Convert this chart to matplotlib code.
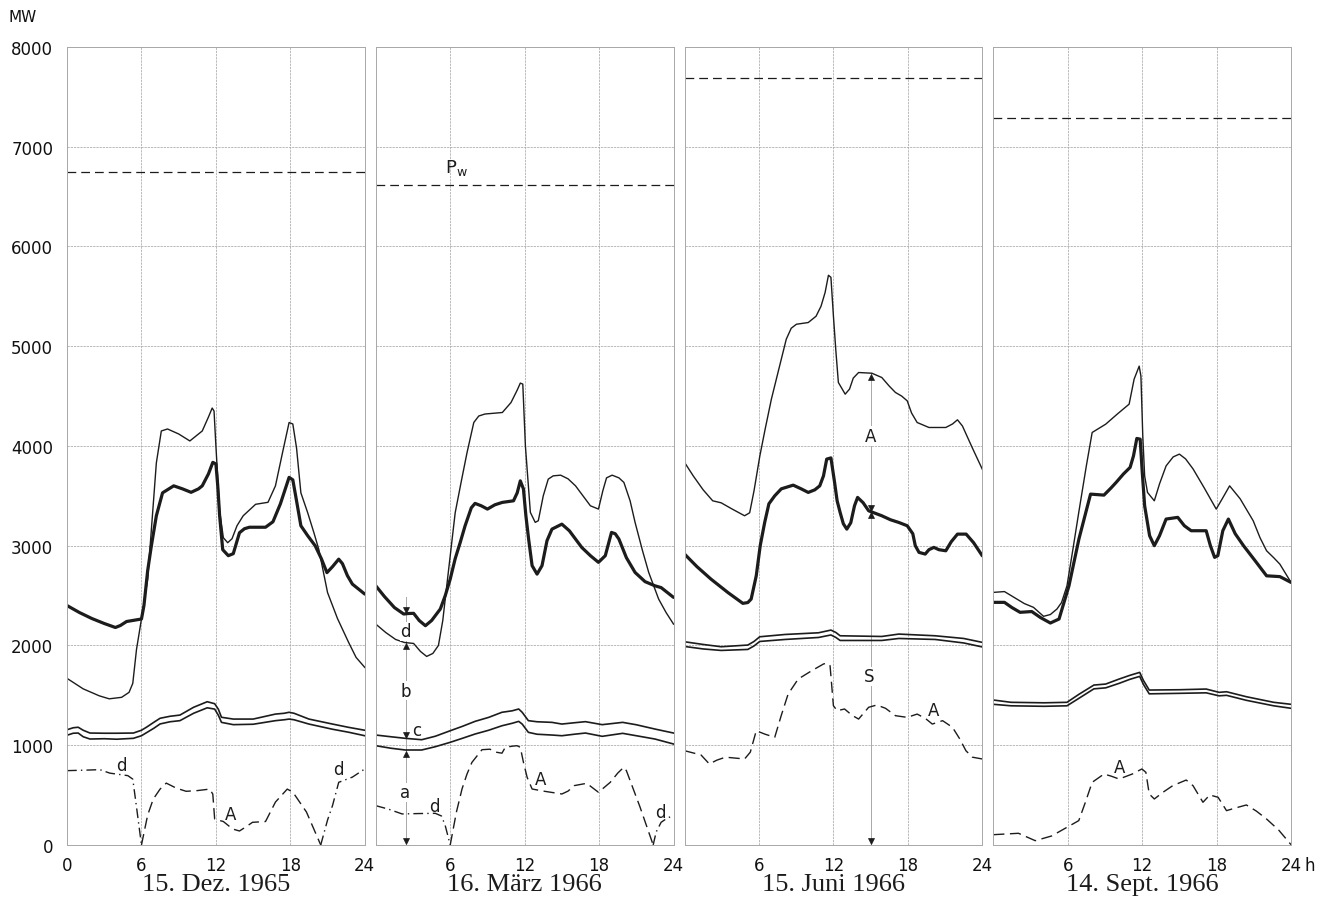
import numpy as np
import matplotlib.pyplot as plt

# Tageslastgänge (MW) an vier Stichtagen, Stunden 0..24
dates = ["15. Dez. 1965", "16. März 1966", "15. Juni 1966", "14. Sept. 1966"]
p_w = [6750, 6620, 7690, 7290]

# dünne Kurve
dez_thin = [(0, 1670), (1.3, 1565), (2.6, 1495), (3.4, 1465), (4.4, 1480), (5.0, 1530), (5.3, 1620),
            (5.6, 1960), (6.0, 2265), (6.5, 2665), (6.9, 3330), (7.2, 3830), (7.6, 4150), (8.1, 4170),
            (9.0, 4120), (9.9, 4050), (10.9, 4150), (11.4, 4290), (11.7, 4380), (11.85, 4350), (12.0, 4000),
            (12.3, 3350), (12.6, 3080), (12.95, 3030), (13.3, 3070), (13.7, 3200), (14.2, 3300), (15.2, 3415),
            (16.2, 3435), (16.8, 3600), (17.4, 3950), (17.9, 4235), (18.2, 4220), (18.5, 3980), (18.85, 3530),
            (19.4, 3330), (19.9, 3130), (20.3, 2960), (21.0, 2530), (21.8, 2270), (22.7, 2030), (23.3, 1880),
            (24, 1780)]
mar_thin = [(0, 2214), (0.8, 2130), (1.6, 2060), (2.3, 2030), (3.05, 2020), (3.6, 1940), (4.1, 1890),
            (4.6, 1920), (5.05, 2000), (5.4, 2250), (5.75, 2630), (6.4, 3330), (6.9, 3650), (7.35, 3930),
            (7.9, 4235), (8.3, 4300), (8.8, 4320), (10.2, 4335), (10.9, 4435), (11.4, 4560), (11.65, 4630),
            (11.85, 4620), (12.06, 4000), (12.46, 3334), (12.85, 3234), (13.1, 3250), (13.5, 3500),
            (13.9, 3667), (14.3, 3700), (14.9, 3707), (15.5, 3670), (16.1, 3600), (16.7, 3500), (17.3, 3400),
            (17.95, 3367), (18.3, 3550), (18.6, 3680), (19.05, 3707), (19.6, 3680), (20.0, 3634), (20.5, 3450),
            (20.9, 3234), (21.5, 2950), (22.0, 2732), (22.8, 2465), (23.4, 2330), (24, 2214)]
jun_thin = [(0, 3835), (0.7, 3700), (1.5, 3560), (2.27, 3450), (2.95, 3430), (3.8, 3370), (4.84, 3300),
            (5.25, 3330), (5.6, 3550), (6.07, 3900), (6.5, 4170), (7.0, 4469), (7.6, 4770), (8.2, 5070),
            (8.6, 5180), (9.02, 5220), (9.97, 5237), (10.6, 5300), (11.0, 5400), (11.33, 5538), (11.6, 5711),
            (11.8, 5690), (12.0, 5304), (12.2, 4950), (12.4, 4636), (12.95, 4519), (13.3, 4570), (13.6, 4680),
            (14.03, 4736), (15.1, 4729), (15.9, 4686), (16.5, 4600), (17.0, 4536), (17.5, 4500), (17.95, 4452),
            (18.3, 4330), (18.75, 4235), (19.7, 4185), (21.06, 4185), (21.6, 4220), (22.0, 4262), (22.4, 4200),
            (23.2, 3980), (24, 3767)]
sep_thin = [(0, 2532), (0.9, 2540), (1.7, 2480), (2.5, 2420), (3.24, 2382), (4.05, 2292), (4.6, 2310),
            (5.13, 2365), (5.5, 2430), (5.94, 2598), (6.4, 2950), (6.89, 3334), (7.5, 3800), (7.97, 4135),
            (9.06, 4218), (10.0, 4320), (10.95, 4419), (11.35, 4669), (11.76, 4800), (11.9, 4700),
            (12.05, 4100), (12.2, 3700), (12.43, 3534), (12.98, 3450), (13.4, 3620), (13.93, 3800),
            (14.5, 3890), (15.0, 3918), (15.5, 3870), (16.1, 3770), (17.0, 3580), (17.97, 3367), (18.5, 3480),
            (19.05, 3600), (19.9, 3470), (20.95, 3250), (21.5, 3080), (22.03, 2949), (22.6, 2880),
            (23.1, 2815), (24, 2632)]

# dicke Kurve
dez_thick = [(0, 2400), (1, 2330), (2, 2270), (3, 2220), (3.9, 2180), (4.3, 2200), (4.8, 2240), (6.0, 2265),
             (6.2, 2400), (6.5, 2750), (6.8, 3000), (7.2, 3300), (7.7, 3530), (8.6, 3600), (9.3, 3570),
             (10.0, 3535), (10.6, 3570), (10.9, 3600), (11.4, 3720), (11.75, 3835), (12.0, 3820), (12.15, 3600),
             (12.3, 3300), (12.55, 2960), (13.0, 2900), (13.4, 2920), (13.9, 3130), (14.3, 3170), (14.7, 3185),
             (16.0, 3185), (16.6, 3240), (17.2, 3420), (17.9, 3685), (18.2, 3660), (18.5, 3450), (18.85, 3200),
             (19.4, 3100), (20.0, 3000), (20.5, 2870), (20.95, 2730), (21.4, 2790), (21.9, 2865), (22.2, 2820),
             (22.6, 2700), (23.0, 2615), (24, 2515)]
mar_thick = [(0, 2598), (0.7, 2490), (1.5, 2380), (2.25, 2315), (2.6, 2320), (3.05, 2322), (3.5, 2250),
             (4.0, 2198), (4.5, 2250), (5.2, 2365), (5.6, 2500), (6.0, 2665), (6.4, 2870), (6.8, 3030),
             (7.2, 3200), (7.7, 3380), (8.0, 3424), (8.5, 3400), (9.0, 3367), (9.6, 3410), (10.2, 3434),
             (11.1, 3450), (11.4, 3530), (11.65, 3650), (11.9, 3570), (12.1, 3300), (12.32, 3066), (12.6, 2800),
             (13.0, 2715), (13.4, 2800), (13.8, 3050), (14.2, 3166), (15.0, 3216), (15.6, 3150), (16.6, 2983),
             (17.3, 2900), (17.95, 2833), (18.5, 2900), (19.0, 3133), (19.3, 3120), (19.6, 3066), (20.2, 2880),
             (20.9, 2732), (21.7, 2640), (22.5, 2598), (23.0, 2580), (24, 2482)]
jun_thick = [(0, 2916), (1, 2790), (2.13, 2665), (3.5, 2530), (4.7, 2422), (5.1, 2430), (5.37, 2465),
             (5.78, 2698), (6.1, 3000), (6.46, 3233), (6.8, 3420), (7.27, 3500), (7.8, 3570), (8.76, 3607),
             (9.4, 3570), (9.97, 3534), (10.5, 3560), (10.9, 3600), (11.2, 3700), (11.46, 3868), (11.8, 3880),
             (12.1, 3630), (12.3, 3450), (12.54, 3334), (12.8, 3220), (13.08, 3166), (13.4, 3230), (13.7, 3400),
             (13.95, 3484), (14.4, 3430), (14.84, 3350), (15.9, 3300), (16.6, 3260), (17.27, 3233),
             (17.95, 3200), (18.4, 3120), (18.6, 3000), (18.9, 2933), (19.4, 2916), (19.7, 2960), (20.1, 2983),
             (20.5, 2960), (21.06, 2949), (21.5, 3040), (22.0, 3116), (22.7, 3116), (23.3, 3030), (24, 2899)]
sep_thick = [(0, 2432), (0.9, 2432), (1.5, 2380), (2.16, 2332), (3.1, 2340), (3.8, 2280), (4.6, 2225),
             (5.3, 2265), (6.1, 2598), (6.9, 3066), (7.84, 3517), (8.92, 3507), (9.5, 3580), (9.9, 3634),
             (10.5, 3720), (11.03, 3785), (11.3, 3900), (11.57, 4075), (11.84, 4068), (12.0, 3750), (12.2, 3400),
             (12.6, 3100), (12.98, 3000), (13.4, 3100), (13.93, 3267), (14.87, 3284), (15.4, 3200),
             (15.95, 3150), (17.16, 3150), (17.5, 3000), (17.84, 2883), (18.1, 2900), (18.5, 3150),
             (18.95, 3267), (19.5, 3120), (20.17, 3000), (21.1, 2850), (22.03, 2698), (23.1, 2690), (24, 2632)]

# Doppellinie: (Stunde, obere Linie, untere Linie)
dez_band = [(0, 1155, 1100), (0.5, 1175, 1120), (0.9, 1180, 1122), (1.3, 1150, 1085), (1.85, 1122, 1062),
            (3, 1120, 1065), (4, 1120, 1060), (5.35, 1122, 1069), (6.0, 1150, 1095), (6.4, 1180, 1125),
            (7.0, 1230, 1170), (7.5, 1270, 1213), (8.3, 1290, 1235), (9.1, 1302, 1246), (10.2, 1380, 1320),
            (11.3, 1436, 1375), (11.9, 1416, 1362), (12.2, 1360, 1300), (12.45, 1280, 1229), (13.4, 1262, 1206),
            (15, 1262, 1210), (16.8, 1312, 1246), (17.5, 1320, 1255), (17.9, 1330, 1262), (18.3, 1320, 1255),
            (19.5, 1262, 1212), (21.4, 1212, 1160), (22.7, 1179, 1130), (24, 1150, 1095)]
mar_band = [(0, 1102, 995), (1.2, 1085, 970), (2.37, 1069, 952), (3.7, 1055, 952), (4.8, 1090, 985),
            (6.0, 1145, 1029), (7.0, 1190, 1070), (8.0, 1239, 1112), (9.1, 1279, 1150), (10.17, 1330, 1195),
            (11.0, 1345, 1220), (11.52, 1363, 1239), (11.8, 1330, 1212), (12.3, 1246, 1129), (13.0, 1235, 1110),
            (14.2, 1229, 1102), (15.0, 1212, 1095), (16.0, 1225, 1110), (16.9, 1236, 1122), (18.25, 1206, 1089),
            (19.9, 1229, 1119), (21.0, 1205, 1095), (22.5, 1162, 1062), (24, 1122, 1012)]
jun_band = [(0, 2037, 1990), (1.5, 2010, 1965), (2.95, 1987, 1950), (5.1, 2004, 1960), (5.6, 2040, 1995),
            (6.06, 2087, 2040), (8.1, 2110, 2060), (10.8, 2127, 2080), (11.8, 2154, 2105), (12.2, 2130, 2080),
            (12.54, 2097, 2050), (15.9, 2090, 2050), (17.27, 2114, 2070), (20.2, 2097, 2060),
            (22.5, 2070, 2025), (24, 2031, 1985)]
sep_band = [(0, 1453, 1410), (1.43, 1430, 1395), (4.1, 1425, 1390), (5.94, 1430, 1395), (6.9, 1510, 1470),
            (8.11, 1603, 1565), (9.06, 1613, 1575), (10.14, 1663, 1620), (11.0, 1700, 1660), (11.8, 1730, 1690),
            (12.1, 1650, 1610), (12.57, 1553, 1515), (15.0, 1556, 1520), (17.16, 1563, 1525),
            (18.2, 1530, 1495), (18.8, 1536, 1500), (20.4, 1486, 1450), (22.6, 1430, 1395), (24, 1410, 1370)]

# gestrichelte Kurve A (bzw. d)
dez_a = [(0, 745), (1.5, 750), (2.65, 755), (3.45, 720), (4.9, 695), (5.3, 660), (5.6, 380), (6.0, 0),
         (6.5, 300), (6.95, 460), (7.5, 560), (8.0, 620), (8.8, 570), (9.6, 538), (10.5, 545), (11.5, 560),
         (11.75, 510), (11.9, 260), (12.6, 235), (13.35, 160), (13.9, 140), (14.4, 180), (14.95, 227),
         (16.0, 235), (16.8, 430), (17.75, 560), (18.2, 530), (19.3, 330), (20.45, 0), (21.0, 250),
         (21.4, 395), (21.9, 628), (23.0, 680), (24, 762)]
mar_a = [(0, 394), (1.0, 360), (2.12, 311), (3.5, 315), (4.8, 317), (5.3, 290), (5.6, 193), (6.0, 0),
         (6.5, 330), (6.95, 561), (7.35, 710), (7.75, 828), (8.56, 955), (9.2, 960), (9.7, 930), (10.17, 920),
         (10.44, 979), (11.0, 990), (11.38, 995), (11.65, 979), (11.9, 830), (12.2, 678), (12.6, 561),
         (13.5, 540), (15.0, 511), (15.5, 540), (16.0, 595), (17.0, 618), (17.95, 528), (18.9, 628),
         (19.5, 720), (19.99, 779), (20.2, 745), (21.3, 380), (22.36, 0), (22.6, 130), (23.0, 227),
         (23.5, 270), (24, 294)]
jun_a = [(0, 945), (1.33, 902), (2.0, 812), (2.6, 850), (3.3, 880), (4.84, 862), (5.3, 930), (5.78, 1145),
         (6.5, 1110), (7.27, 1079), (7.8, 1300), (8.35, 1513), (9.16, 1663), (10.24, 1746), (11.2, 1814),
         (11.46, 1824), (11.73, 1797), (12.0, 1396), (12.3, 1346), (12.9, 1363), (13.5, 1300), (14.03, 1262),
         (14.84, 1380), (15.5, 1403), (16.2, 1370), (17.0, 1296), (17.95, 1279), (18.75, 1312), (19.4, 1270),
         (19.97, 1212), (20.8, 1246), (21.6, 1179), (22.2, 1060), (22.68, 945), (23.2, 880), (24, 862)]
sep_a = [(0, 103), (2.03, 117), (3.38, 43), (4.7, 90), (6.89, 244), (7.4, 420), (7.97, 628), (8.92, 711),
         (9.5, 690), (10.14, 661), (11.2, 711), (11.98, 762), (12.3, 728), (12.57, 511), (12.98, 461),
         (13.7, 530), (14.46, 594), (15.55, 651), (16.1, 594), (16.9, 428), (17.45, 501), (18.12, 478),
         (18.8, 344), (19.5, 370), (20.4, 401), (21.2, 340), (22.03, 260), (23.0, 150), (24, 3)]

# Stundenbereiche, in denen die untere Kurve den Anteil d zeigt
dez_d_spans = [(0, 6.0), (20.45, 24)]
mar_d_spans = [(0, 6.0), (22.36, 24)]
jun_d_spans = []
sep_d_spans = []

thin_all = [dez_thin, mar_thin, jun_thin, sep_thin]
thick_all = [dez_thick, mar_thick, jun_thick, sep_thick]
band_all = [dez_band, mar_band, jun_band, sep_band]
a_all = [dez_a, mar_a, jun_a, sep_a]
d_spans_all = [dez_d_spans, mar_d_spans, jun_d_spans, sep_d_spans]

INK = "#1c1c1c"
GRID = "#a8a8a8"
DASH = (0, (8, 4))
DASHDOT = (0, (7, 3, 1, 3))


def xy(pts):
    arr = np.array(pts, dtype=float)
    return arr[:, 0], arr[:, 1]


def draw_lower(ax, pts, spans):
    h, mw = xy(pts)
    mid = (h[:-1] + h[1:]) / 2
    is_d = np.array([any(a <= m <= b for a, b in spans) for m in mid])
    i = 0
    while i < len(is_d):
        j = i
        while j + 1 < len(is_d) and is_d[j + 1] == is_d[i]:
            j += 1
        ax.plot(h[i:j + 2], mw[i:j + 2], color=INK, lw=1.0,
                ls=DASHDOT if is_d[i] else DASH, dash_capstyle="butt")
        i = j + 1


def at(pts, hour, col=1):
    arr = np.array(pts, dtype=float)
    return np.interp(hour, arr[:, 0], arr[:, col])


def tip(ax, hour, val, up):
    off = -38 if up else 38
    ax.plot(hour, val + off, marker="^" if up else "v", ms=4.5, color=INK, mec=INK, mew=0.5)


lbl = dict(fontsize=12, color=INK, ha="center", va="center")
lbl_box = dict(lbl, bbox=dict(facecolor="white", edgecolor="none", pad=0.5))

fig = plt.figure(figsize=(13.3, 9.04), dpi=100)
axes = fig.subplots(1, 4, sharey=True)
fig.subplots_adjust(left=0.0504, right=0.9707, bottom=0.0642, top=0.947, wspace=0.037)

for k, ax in enumerate(axes):
    ax.set_xlim(0, 24)
    ax.set_ylim(0, 8000)
    ax.set_yticks(np.arange(0, 8001, 1000))
    ax.set_xticks([0, 6, 12, 18, 24] if k == 0 else [6, 12, 18, 24])
    ax.grid(True, color=GRID, lw=0.55, ls=(0, (3, 1.2)))
    ax.set_axisbelow(True)
    for s in ax.spines.values():
        s.set_color(GRID)
        s.set_linewidth(0.7)
    ax.tick_params(length=0, labelsize=12, labelcolor="#111111")
    ax.tick_params(axis="y", pad=10)
    ax.tick_params(axis="x", pad=8)

    # Leistungsgrenze P_w
    ax.axhline(p_w[k], color=INK, lw=0.9, ls=(0, (7, 4)))

    h, mw = xy(thin_all[k])
    ax.plot(h, mw, color=INK, lw=1.0, solid_joinstyle="round")
    h, mw = xy(thick_all[k])
    ax.plot(h, mw, color=INK, lw=2.3, solid_joinstyle="round", solid_capstyle="round")
    band = np.array(band_all[k], dtype=float)
    ax.plot(band[:, 0], band[:, 1], color=INK, lw=1.2)
    ax.plot(band[:, 0], band[:, 2], color=INK, lw=1.2)
    draw_lower(ax, a_all[k], d_spans_all[k])

    ax.text(0.5, -0.035, dates[k], transform=ax.transAxes, ha="center", va="top",
            fontsize=19, family="Liberation Serif", color=INK)

# Beschriftungen Dezember
ax = axes[0]
ax.text(4.4, 800, "d", **lbl)
ax.text(21.9, 760, "d", **lbl)
ax.text(13.2, 310, "A", **lbl)

# Beschriftungen März mit Bemaßung
ax = axes[1]
hm = 2.4
ax.plot([hm, hm], [2485, 0], color=GRID, lw=0.7, zorder=1)
tip(ax, hm, at(mar_thick, hm), up=False)
tip(ax, hm, at(mar_thin, hm), up=True)
tip(ax, hm, at(mar_band, hm, 1), up=False)
tip(ax, hm, at(mar_band, hm, 2), up=True)
tip(ax, hm, 0, up=False)
ax.text(hm, 2140, "d", **lbl_box)
ax.text(hm, 1546, "b", **lbl_box)
ax.text(3.3, 1150, "c", **lbl)
ax.text(hm, 528, "a", **lbl_box)
ax.text(4.75, 390, "d", **lbl)
ax.text(13.25, 661, "A", **lbl)
ax.text(22.9, 330, "d", **lbl)
ax.text(6.5, 6700, r"P$_\mathregular{w}$", fontsize=13, color=INK, ha="center", va="bottom")

# Beschriftungen Juni mit Bemaßung
ax = axes[2]
hj = 15.0
ax.plot([hj, hj], [at(jun_thin, hj), 0], color=GRID, lw=0.7, zorder=1)
tip(ax, hj, at(jun_thin, hj), up=True)
tip(ax, hj, at(jun_thick, hj), up=False)
tip(ax, hj, at(jun_thick, hj), up=True)
tip(ax, hj, 0, up=False)
ax.text(hj, 4100, "A", **lbl_box)
ax.text(hj - 0.1, 1690, "S", **lbl_box)
ax.text(20.1, 1350, "A", **lbl)

# Beschriftung September
axes[3].text(10.14, 780, "A", **lbl)

fig.text(1310 / 1330, 1 - 866 / 904, "h", fontsize=12, color="#111111", ha="center", va="center")
fig.text(9 / 1330, 1 - 17 / 904, "MW", fontsize=11, color="#111111", ha="left", va="center")

fig.savefig("out.png", dpi=100, facecolor="white")
